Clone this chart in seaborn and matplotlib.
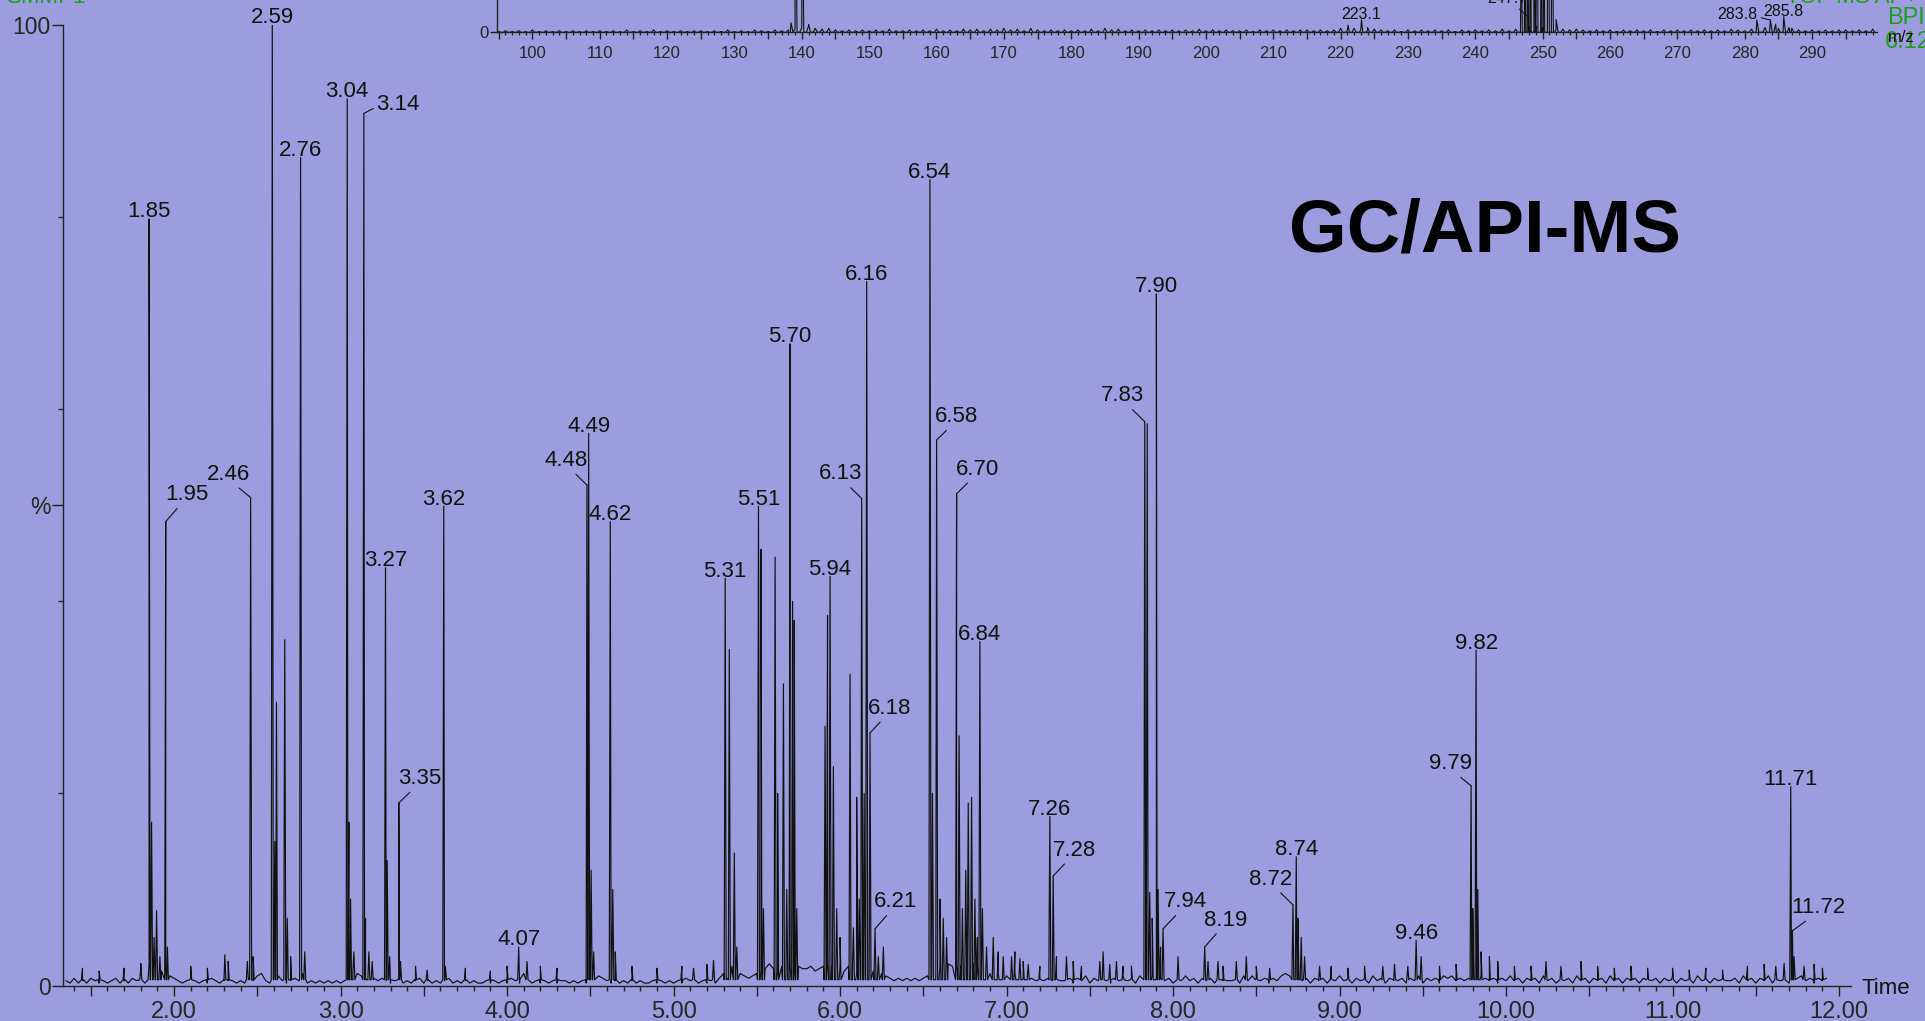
import numpy as np
import pandas as pd
import matplotlib
matplotlib.use("Agg")
import matplotlib.pyplot as plt
from matplotlib.ticker import MultipleLocator, FixedLocator, FuncFormatter
import seaborn as sns

# ---- chromatogram, labelled peaks: retention time (min) / height (%)
peak_labels = ["1.85", "1.95", "2.46", "2.59", "2.76", "3.04", "3.14", "3.27", "3.35",
               "3.62", "4.07", "4.48", "4.49", "4.62", "5.31", "5.51", "5.70", "5.94",
               "6.13", "6.16", "6.18", "6.21", "6.54", "6.58", "6.70", "6.84", "7.26",
               "7.28", "7.83", "7.90", "7.94", "8.19", "8.72", "8.74", "9.46", "9.79",
               "9.82", "11.71", "11.72"]
peak_rt = [1.85, 1.95, 2.46, 2.59, 2.76, 3.04, 3.14, 3.27, 3.35,
           3.62, 4.07, 4.48, 4.49, 4.62, 5.31, 5.51, 5.70, 5.94,
           6.13, 6.16, 6.18, 6.21, 6.54, 6.58, 6.70, 6.84, 7.26,
           7.28, 7.83, 7.90, 7.94, 8.19, 8.72, 8.74, 9.46, 9.79,
           9.82, 11.71, 11.72]
peak_pct = [79.8, 48.3, 50.8, 100.0, 86.2, 92.3, 90.8, 43.5, 19.0,
            49.9, 4.0, 52.1, 57.5, 48.3, 42.4, 49.9, 66.8, 42.6,
            50.7, 73.3, 26.3, 5.9, 83.9, 56.8, 51.2, 35.8, 17.6,
            11.4, 58.7, 72.0, 5.9, 4.0, 8.4, 13.4, 4.7, 20.8,
            34.9, 20.7, 5.7]

# unlabelled peaks
minor_rt = [1.45, 1.55, 1.70, 1.80, 1.865, 1.88, 1.895, 1.915, 1.96, 2.10,
            2.20, 2.305, 2.325, 2.44, 2.475, 2.605, 2.615, 2.665, 2.68, 2.70,
            2.785, 3.05, 3.06, 3.08, 3.15, 3.17, 3.19, 3.28, 3.295, 3.36,
            3.45, 3.52, 3.63, 3.75, 3.90, 4.00, 4.12, 4.20, 4.30, 4.505,
            4.52, 4.635, 4.65, 4.75, 4.90, 5.05, 5.12, 5.20, 5.24, 5.335,
            5.365, 5.38, 5.525, 5.54, 5.61, 5.625, 5.66, 5.68, 5.715, 5.725,
            5.74, 5.91, 5.925, 5.96, 5.98, 6.00, 6.06, 6.08, 6.10, 6.115,
            6.145, 6.23, 6.26, 6.555, 6.60, 6.62, 6.64, 6.715, 6.735, 6.755,
            6.77, 6.79, 6.81, 6.825, 6.855, 6.88, 6.92, 6.95, 6.98, 7.03,
            7.05, 7.08, 7.10, 7.13, 7.20, 7.30, 7.36, 7.40, 7.45, 7.56,
            7.58, 7.62, 7.66, 7.70, 7.75, 7.845, 7.86, 7.875, 7.91, 7.925,
            8.03, 8.21, 8.27, 8.30, 8.38, 8.44, 8.50, 8.58, 8.75, 8.77,
            8.79, 8.88, 8.95, 9.05, 9.15, 9.26, 9.33, 9.41, 9.49, 9.60,
            9.70, 9.80, 9.83, 9.85, 9.90, 9.95, 10.05, 10.15, 10.24, 10.33,
            10.45, 10.55, 10.65, 10.75, 10.85, 11.00, 11.10, 11.20, 11.30, 11.45,
            11.55, 11.62, 11.67, 11.73, 11.79, 11.85, 11.90]
minor_pct = [1.8, 1.5, 1.8, 2.3, 17.0, 5.0, 7.8, 3.0, 4.0, 2.0,
             1.8, 3.2, 2.5, 2.5, 3.0, 15.0, 29.5, 36.0, 7.0, 3.0,
             3.5, 17.0, 9.0, 3.5, 7.0, 3.5, 2.5, 13.0, 3.0, 2.5,
             2.0, 1.6, 2.0, 1.8, 1.5, 2.0, 2.5, 2.0, 1.8, 12.0,
             3.5, 10.0, 3.5, 2.0, 1.8, 2.0, 1.8, 2.2, 2.6, 35.0,
             13.8, 4.0, 45.4, 8.0, 44.6, 20.0, 31.4, 10.0, 40.0, 38.0,
             8.0, 27.0, 38.5, 22.8, 8.0, 5.0, 32.4, 6.0, 19.6, 9.0,
             20.0, 3.0, 4.0, 20.0, 9.0, 7.0, 5.0, 26.0, 8.0, 12.0,
             19.0, 19.6, 9.0, 5.0, 8.0, 4.0, 5.0, 3.5, 3.0, 3.0,
             3.5, 2.8, 2.5, 2.2, 2.0, 3.0, 3.0, 2.5, 2.0, 2.5,
             3.5, 2.2, 2.5, 2.0, 2.0, 58.5, 9.7, 7.0, 10.0, 4.0,
             3.0, 2.5, 2.5, 2.0, 2.5, 3.0, 2.0, 1.8, 7.0, 5.0,
             3.0, 2.0, 2.0, 1.8, 2.0, 2.0, 2.2, 2.0, 3.0, 2.0,
             2.2, 8.0, 10.0, 3.5, 3.0, 2.5, 2.0, 2.0, 2.5, 2.0,
             2.5, 2.0, 1.8, 2.0, 1.8, 1.8, 1.6, 1.8, 1.6, 2.0,
             2.2, 2.0, 2.3, 3.0, 2.0, 2.2, 1.8]

# baseline noise: one digit per 0.025 min from 1.35 min, digit x 0.25 %
noise_start, noise_step, noise_unit = 1.35, 0.025, 0.25
noise_digits = (
    "21312132121231213271"   # 1.35
    "94868432123212132122"   # 1.85
    "21213245213421232512"   # 2.35
    "12121212575434323212"   # 2.85
    "31212312121231212121"   # 3.35
    "12121213215312121212"   # 3.85
    "21212155432121212121"   # 4.35
    "12121212132412121353"   # 4.85
    "86543456797685868778"   # 5.35
    "67898786895765645432"   # 5.85
    "32323234548798989898"   # 6.35
    "76545343543432323232"   # 6.85
    "23132413232132423143"   # 7.35
    "54332313242313231322"   # 7.85
    "23142432313245433231"   # 8.35
    "32313242313231423132"   # 8.85
    "23132413231434232343"   # 9.35
    "43231324231323142313"   # 9.85
    "23142313231423132313"   # 10.35
    "32313241323142313232"   # 10.85
    "231423132413231334231323"  # 11.35
)

# ---- mass spectrum inset: m/z / intensity (%)
ms_mz = [138.4, 139.0, 140.0, 141.0, 221.1, 223.1, 224.0, 246.8, 247.3, 247.8,
         248.2, 248.7, 249.2, 249.8, 250.2, 250.8, 251.3, 252.0, 281.8, 283.8,
         284.6, 285.8, 286.6]
ms_int = [6, 100, 100, 5, 4.4, 7.7, 3, 40, 100, 100,
          100, 95, 100, 100, 100, 100, 100, 8, 7.7, 7.7,
          5, 9.8, 3]
# noise: one digit per m/z unit from 95, digit x 0.5 %
ms_noise_start, ms_noise_unit = 95, 0.5
ms_noise_digits = (
    "1212131212" "1212121213" "1213121212" "2121312132" "1323468545"
    "3232323242" "2323242324" "3424353425" "3232323242" "5342323232"
    "3232423232" "2313232323" "3232352532" "4323132323" "2313232324"
    "2457865343" "4323231323" "2313232323" "2324324565" "5453232323"
    "32324"
)
ms_labels = ["139.0", "223.1", "247.7", "283.8", "285.8"]
ms_label_mz = [139.0, 223.1, 247.85, 283.8, 285.8]
ms_label_y = [23.2, 7.7, 9.75, 7.7, 9.8]

BG = "#9d9cde"
GREEN = "#1a9f1a"
INK = "#111111"
W, H = 1925, 1021
PT = 0.884  # reference display px -> points


def fx(px):
    return px / W


def fy(py):
    return 1 - py / H


def spikes(pos, hgt, w, base):
    xs, ys = [], []
    for p, h in zip(pos, hgt):
        xs += [p - w, p, p + w]
        ys += [base, h, base]
    return xs, ys


sns.set_theme(style="ticks")
plt.rcParams["font.family"] = ["Liberation Sans", "DejaVu Sans"]

fig = plt.figure(figsize=(W / 100, H / 100), dpi=100, facecolor=BG)

# ---------------- main chromatogram
ax = fig.add_axes([fx(63), fy(985.5), 1787.7 / W, 960.5 / H])
ax.set_facecolor("none")

n_t = noise_start + noise_step * np.arange(len(noise_digits))
n_v = [int(c) * noise_unit for c in noise_digits]
sx, sy = spikes(peak_rt + minor_rt, peak_pct + minor_pct, 0.006, 0.6)
trace = pd.DataFrame({"rt": list(n_t) + sx, "pct": n_v + sy})
trace = trace.sort_values("rt", kind="stable")
sns.lineplot(data=trace, x="rt", y="pct", sort=False, estimator=None,
             color=INK, linewidth=0.85, ax=ax)

ax.set_xlim(1.333, 12.07)
ax.set_ylim(0, 100)
ax.set_xlabel("")
ax.set_ylabel("")
for s in ["top", "right"]:
    ax.spines[s].set_visible(False)
for s in ["left", "bottom"]:
    ax.spines[s].set_color("#222222")
    ax.spines[s].set_linewidth(1.0)

ax.xaxis.set_major_locator(MultipleLocator(0.5))
ax.xaxis.set_minor_locator(MultipleLocator(0.1))
ax.xaxis.set_major_formatter(FuncFormatter(
    lambda v, p: f"{v:.2f}" if abs(v - round(v)) < 1e-6 else ""))
ax.yaxis.set_major_locator(FixedLocator([0, 50, 100]))
ax.yaxis.set_major_formatter(FuncFormatter(
    lambda v, p: {0: "0", 50: "%", 100: "100"}.get(int(round(v)), "")))
ax.yaxis.set_minor_locator(FixedLocator([20, 40, 60, 80]))
ax.tick_params(axis="x", which="major", length=7, width=1, pad=4,
               labelsize=17, color="#222222")
ax.tick_params(axis="x", which="minor", length=3.4, width=1, color="#222222")
ax.tick_params(axis="y", which="major", length=7.7, width=1, pad=1,
               labelsize=16.5, color="#222222")
ax.tick_params(axis="y", which="minor", length=3.6, width=1, color="#222222")

leader_offsets = {
    "1.95": (17, 22), "2.46": (-18, 19), "3.14": (28, 7), "3.35": (17, 20),
    "4.48": (-17, 20), "6.13": (-17, 20), "6.18": (16, 20), "6.21": (17, 22),
    "6.58": (16, 19), "6.70": (17, 20), "7.28": (17, 21), "7.83": (-18, 21),
    "7.94": (18, 22), "8.19": (17, 22), "8.72": (-18, 21), "9.79": (-17, 18),
    "11.72": (21, 19),
}
for lab, t, h in zip(peak_labels, peak_rt, peak_pct):
    if lab in leader_offsets:
        dx, dy = leader_offsets[lab]
        if abs(dy) < 10:
            rp = (0.0, 0.4)
        elif dx > 0:
            rp = (0.35, 0.0)
        else:
            rp = (0.65, 0.0)
        ax.annotate(lab, xy=(t, h), xytext=(dx * PT, dy * PT),
                    textcoords="offset points", ha="center", va="center",
                    fontsize=16, color=INK, annotation_clip=False,
                    arrowprops=dict(arrowstyle="-", color=INK, lw=0.8,
                                    shrinkA=0, shrinkB=0, relpos=rp))
    else:
        ax.annotate(lab, xy=(t, h), xytext=(0, 1.2), textcoords="offset points",
                    ha="center", va="baseline", fontsize=16, color=INK,
                    annotation_clip=False)

# ---------------- spectrum inset
ax2 = fig.add_axes([fx(496.7), fy(32.3), (299.6 - 94.7) * 6.735 / W, 160 / H])
ax2.set_facecolor("none")
m_x = ms_noise_start + np.arange(len(ms_noise_digits))
m_v = [int(c) * ms_noise_unit for c in ms_noise_digits]
mx, my = spikes(list(m_x) + ms_mz, m_v + ms_int, 0.3, 0.0)
spec = pd.DataFrame({"mz": mx, "inten": my}).sort_values("mz", kind="stable")
sns.lineplot(data=spec, x="mz", y="inten", sort=False, estimator=None,
             color=INK, linewidth=0.8, ax=ax2)
ax2.set_xlim(94.7, 299.6)
ax2.set_ylim(0, 100)
ax2.set_xlabel("")
ax2.set_ylabel("")
for s in ["top", "right"]:
    ax2.spines[s].set_visible(False)
for s in ["left", "bottom"]:
    ax2.spines[s].set_color("#222222")
    ax2.spines[s].set_linewidth(1.0)
ax2.xaxis.set_major_locator(MultipleLocator(5))
ax2.xaxis.set_minor_locator(MultipleLocator(1))
ax2.xaxis.set_major_formatter(FuncFormatter(
    lambda v, p: f"{int(round(v))}" if int(round(v)) % 10 == 0 else ""))
ax2.yaxis.set_major_locator(FixedLocator([0]))
ax2.yaxis.set_minor_locator(FixedLocator([]))
ax2.tick_params(axis="x", which="major", length=4.8, width=1, pad=5.3,
                labelsize=12, color="#222222")
ax2.tick_params(axis="x", which="minor", length=2.4, width=0.9, color="#222222")
ax2.tick_params(axis="y", which="major", length=5, width=1, pad=1,
                labelsize=12, color="#222222")

ms_offsets = {"139.0": (-24, 0), "223.1": (0, 0.5), "247.7": (-15, 13.3),
              "283.8": (-23.5, 4.3), "285.8": (0, 0.5)}
for lab, m, yv in zip(ms_labels, ms_label_mz, ms_label_y):
    dx, dy = ms_offsets[lab]
    if lab in ("247.7", "283.8"):
        rp = (0.7, 0.0) if lab == "247.7" else (1.0, 0.3)
        ax2.annotate(lab, xy=(m, yv), xytext=(dx, dy), textcoords="offset points",
                     ha="center", va="center", fontsize=11.5, color=INK,
                     annotation_clip=False,
                     arrowprops=dict(arrowstyle="-", color=INK, lw=0.7,
                                     shrinkA=0, shrinkB=0, relpos=rp))
    else:
        va = "center" if lab == "139.0" else "baseline"
        ax2.annotate(lab, xy=(m, yv), xytext=(dx, dy), textcoords="offset points",
                     ha="center", va=va, fontsize=11.5, color=INK,
                     annotation_clip=False)

# ---------------- figure texts
fig.text(fx(1484.5), fy(232), "GC/API-MS", fontsize=53.5, fontweight="bold",
         ha="center", va="center", color="#000000")
fig.text(fx(1886), fy(988), "Time", fontsize=16, ha="center", va="center", color=INK)
fig.text(fx(7), fy(2.7), "SMMP1", fontsize=16, ha="left", va="baseline", color=GREEN)
fig.text(fx(1786), fy(3), "TOF MS AP+", fontsize=16, ha="left", va="baseline", color=GREEN)
fig.text(fx(1887), fy(18), "BPI", fontsize=17, ha="left", va="center", color=GREEN)
fig.text(fx(1885), fy(42), "6.12e4", fontsize=17, ha="left", va="center", color=GREEN)
fig.text(fx(1888), fy(37), "m/z", fontsize=12, ha="left", va="center", color=INK)

fig.savefig("out.png", dpi=100, facecolor=fig.get_facecolor())
